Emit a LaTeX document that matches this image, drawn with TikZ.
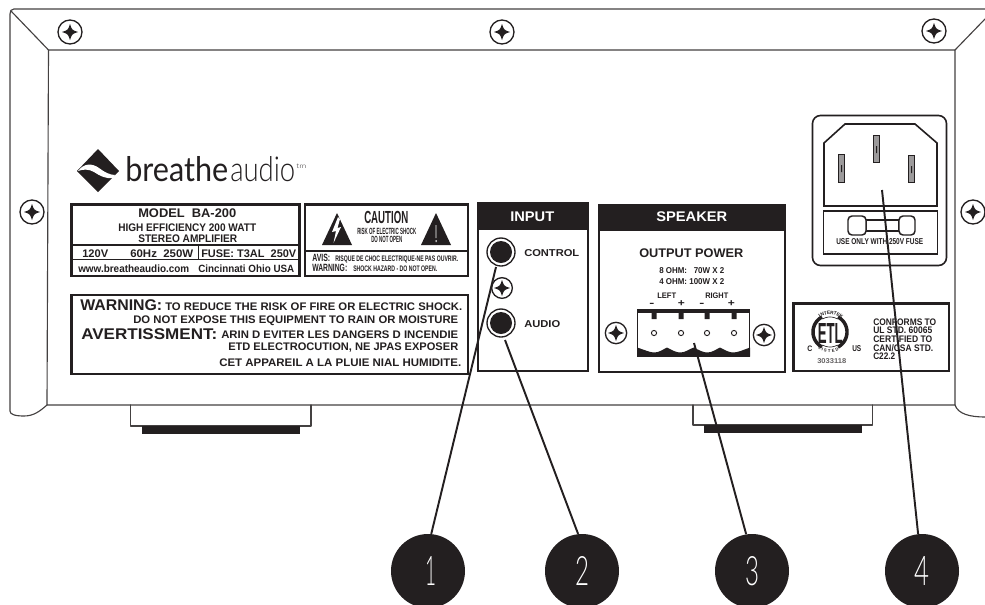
\documentclass[tikz,border=0pt]{standalone}
\usepackage{fontspec}
\usepackage{graphicx}
\setmainfont{Liberation Sans}[BoldFont={Liberation Sans Bold}]
\newfontfamily\logobold{Lato}
\newfontfamily\logolight{Lato Light}
\definecolor{ink}{HTML}{231F20}
\newdimen\upx \upx=0.75pt
\newcounter{lab}
\newcommand{\Lab}[6][ink]{% colour, x, y, width, size, text
  \stepcounter{lab}%
  \node[anchor=base west,inner sep=0pt,text=#1] (t\thelab) at (#2,#3)
    {\resizebox{#4\upx}{\height}{\fontsize{#5\upx}{#5\upx}\selectfont\bfseries #6}};}
\tikzset{
  body/.style={draw=ink!85,line width=0.85pt,line cap=round,line join=round},
  labelbox/.style={draw=ink,line width=1.9pt,fill=white},
  blackfill/.style={fill=ink,draw=none},
  thinbox/.style={draw=ink,line width=1.1pt,fill=white},
  leader/.style={draw=ink,line width=1.45pt},
  numdot/.style={circle,fill=ink,minimum size=55.5pt,inner sep=0pt},
  jack/.style={circle,draw=ink,line width=1pt,fill=white,minimum size=21pt,inner sep=0pt},
  jackcore/.style={circle,fill=ink,minimum size=16.5pt,inner sep=0pt},
  screwring/.style={circle,draw=ink,line width=1pt,fill=white,inner sep=0pt},
  pin/.style={fill=ink!45,draw=ink,line width=0.5pt}
}
\newcommand{\Screw}[4][18]{% minimum size in pt, name, x, y
  \node[screwring,minimum size=#1pt] (#2) at (#3,#4) {};
  \fill[ink] (#3-8,#4) .. controls (#3-2,#4-2) .. (#3,#4-8)
     .. controls (#3+2,#4-2) .. (#3+8,#4)
     .. controls (#3+2,#4+2) .. (#3,#4+8)
     .. controls (#3-2,#4+2) .. cycle;}
\begin{document}
\begin{tikzpicture}[x=0.75pt,y=-0.75pt]
\useasboundingbox (0,0) rectangle (985,604);
\clip (0,0) rectangle (985,604);
% chassis
\draw[body] (985,9) -- (14,9) .. controls (11,9) and (10,11) .. (10,14) -- (10,411)
  .. controls (10,414) and (14,416) .. (24,416) .. controls (34,416) and (40,411) .. (47,405);
\draw[body] (11,11) -- (48.5,50) -- (47,405) -- (955,405) -- (955,50) -- (48.5,50);
\draw[body] (955,50) -- (985,19);
\draw[body] (955,405) .. controls (958,414) and (970,417) .. (985,417);
% feet
\draw[body] (130.5,405) -- (130.5,426) -- (311,426) -- (311,405);
\fill[ink] (142,426) rectangle (300,434);
\draw[body] (693,405) -- (693,425) -- (872.5,425) -- (872.5,405);
\fill[ink] (703.5,425) rectangle (861.5,433);
% screws
\Screw{s1}{70}{32}
\Screw{s2}{502}{32}
\Screw{s3}{934}{31}
\Screw{s4}{32}{212}
\Screw{s5}{973}{212}
% logo
\fill[ink] (77,171) -- (98,149) -- (119,171) -- (98,192) -- cycle;
\fill[white] (78,171) .. controls (84,163) and (92,163) .. (99,168)
  .. controls (104,172) and (110,175) .. (115,175) -- (113,178)
  .. controls (106,179) and (100,176) .. (94,172) .. controls (89,169) and (83,169) .. (78,171) -- cycle;
\node[anchor=base west,inner sep=0pt,text=ink] (logoa) at (125,181.5)
  {\resizebox{103\upx}{25\upx}{\logobold breathe}};
\node[anchor=base west,inner sep=0pt,text=ink] (logob) at (230,181.5)
  {\resizebox{65\upx}{25\upx}{\logolight audio}};
\node[anchor=base west,inner sep=0pt,text=ink] (logoc) at (296,168)
  {\resizebox{10\upx}{4.5\upx}{\logolight tm}};
% model label
\draw[labelbox] (71.5,204.5) rectangle (299.5,276);
\draw[ink,line width=1.1pt] (72,245) -- (299,245) (72,259.5) -- (299,259.5) (198.5,245) -- (198.5,259.5);
\Lab{138}{217.5}{98}{12.5}{MODEL\ \ BA-200}
\Lab{118}{231}{138}{11}{HIGH EFFICIENCY 200 WATT}
\Lab{138}{242}{99}{11}{STEREO AMPLIFIER}
\Lab{82}{257}{26}{11}{120V}
\Lab{130}{257}{63}{11}{60Hz\ \ 250W}
\Lab{201}{257}{95}{11}{FUSE: T3AL\ \ 250V}
\Lab{78}{272}{111}{10.5}{www.breatheaudio.com}
\Lab{198}{272}{96}{10.5}{Cincinnati Ohio USA}
% caution label
\draw[labelbox] (305,204.5) rectangle (468,276);
\draw[ink,line width=1.1pt] (306,251) -- (467,251);
\fill[ink] (337,213) -- (352,245) -- (322,245) -- cycle;
\fill[white] (338,217) -- (332,232) -- (336,231) -- (333.5,243) -- (341,227) -- (337.5,228) -- (340,219) -- cycle;
\fill[ink] (436,213) -- (451,245) -- (421,245) -- cycle;
\fill[white] (435.6,225) rectangle (436.4,238) (435.5,240) rectangle (436.5,242);
\Lab{364}{223.5}{44}{17.5}{CAUTION}
\Lab{357}{234}{59}{9}{RISK OF ELECTRIC SHOCK}
\Lab{371}{242}{31}{9}{DO NOT OPEN}
\Lab{312}{261}{18}{10.5}{AVIS:}
\Lab{335}{261}{123}{8}{RISQUE DE CHOC ELECTRIQUE-NE PAS OUVRIR.}
\Lab{312}{271}{35}{10.5}{WARNING:}
\Lab{353}{271}{84}{8}{SHOCK HAZARD - DO NOT OPEN.}
% warning label
\draw[labelbox] (71.5,295) rectangle (468,374);
\Lab{80}{310}{82}{15.5}{WARNING:}
\Lab{165}{310}{297}{11}{TO REDUCE THE RISK OF FIRE OR ELECTRIC SHOCK.}
\Lab{133}{323}{325}{11}{DO NOT EXPOSE THIS EQUIPMENT TO RAIN OR MOISTURE}
\Lab{81}{339}{136}{15.5}{AVERTISSMENT:}
\Lab{221}{338}{237}{11}{ARIN D EVITER LES DANGERS D INCENDIE}
\Lab{228}{350}{230}{11}{ETD ELECTROCUTION, NE JPAS EXPOSER}
\Lab{219}{366}{242}{11}{CET APPAREIL A LA PLUIE NIAL HUMIDITE.}
% input panel
\draw[thinbox,line width=1.5pt] (477.5,203) rectangle (587.5,371);
\fill[blackfill] (476.5,202) rectangle (588.5,230);
\Lab[white]{510}{221}{44}{14}{INPUT}
\node[jack] (j1) at (501,252) {};
\node[jackcore] (j1c) at (501,252) {};
\node[jack] (j2) at (501,323) {};
\node[jackcore] (j2c) at (501,323) {};
\Lab{524}{256}{55}{10}{CONTROL}
\Lab{524}{327}{36}{10}{AUDIO}
\Screw[15.5]{s6}{502}{288}
% speaker panel
\draw[thinbox,line width=1.5pt] (598.5,205) rectangle (785,372);
\fill[blackfill] (597.5,204) rectangle (786,230.5);
\Lab[white]{656}{221}{71}{14}{SPEAKER}
\Lab{639}{257}{104}{12.5}{OUTPUT POWER}
\Lab{659}{273}{65}{8.5}{8 OHM:\ \ \ 70W X 2}
\Lab{659}{284}{65}{8.5}{4 OHM: 100W X 2}
\Lab{657}{298}{19}{8}{LEFT}
\Lab{705}{298}{23}{8}{RIGHT}
\Lab{649}{306.5}{5}{10}{-}
\Lab{677.5}{306.5}{7}{10}{+}
\Lab{699}{306.5}{5}{10}{-}
\Lab{727.5}{306.5}{7}{10}{+}
\Screw[16]{s7}{616}{333}
\Screw[16]{s8}{764}{335}
% terminal block
\draw[ink,line width=0.8pt,fill=white] (637.5,310) rectangle (749.5,356);
\fill[ink] (637,309) rectangle (750,312.5);
\fill[ink] (651.5,310) rectangle (656.5,319) (678.5,310) rectangle (683.5,319)
  (704.5,310) rectangle (709.5,319) (731.5,310) rectangle (736.5,319);
\foreach \px in {654,681,707,734} {\draw[ink,line width=0.7pt] (\px,333) circle[radius=2.6];}
\fill[ink] (637,347.5) .. controls (645,350) and (650,352.5) .. (654,352.5) .. controls (659,352.5) and (662,350) .. (667,347.5)
  .. controls (672,350) and (676,352.5) .. (680,352.5) .. controls (685,352.5) and (688,350) .. (693.5,347.5)
  .. controls (699,350) and (703,352.5) .. (707,352.5) .. controls (712,352.5) and (715,350) .. (720,347.5)
  .. controls (725,350) and (729,352.5) .. (733,352.5) .. controls (738,352.5) and (743,350) .. (750,347.5)
  -- (750,356.5) -- (637,356.5) -- cycle;
% power inlet
\draw[ink,line width=1.2pt,fill=white,rounded corners=6pt] (812.5,115.5) rectangle (946.5,265.5);
\draw[ink,line width=1.2pt] (824,206) -- (937,206) -- (937,143) -- (915,124) -- (845,124) -- (824,143) -- cycle;
\draw[ink,line width=1.2pt] (823.5,211) rectangle (937.5,254);
\draw[pin] (838.5,154.5) rectangle (844.5,182);
\draw[pin] (873.5,135) rectangle (879.5,162);
\draw[pin] (908.5,155) rectangle (914.5,182);
\fill[ink] (841,165) rectangle (842,172) (876,146) rectangle (877,153) (911,166) rectangle (912,173);
\draw[ink,line width=0.8pt] (866,220) rectangle (899,231);
\draw[ink,line width=1.1pt,rounded corners=3pt,fill=white] (848,216) rectangle (866,235);
\draw[ink,line width=1.1pt,rounded corners=3pt,fill=white] (899,216) rectangle (915,235);
\Lab{836}{244}{87}{8.5}{USE ONLY WITH 250V FUSE}
% ETL label
\draw[labelbox] (793.5,303.5) rectangle (949,371);
\draw[ink,line width=2.6pt] plot[domain=118:242,samples=30] ({830+17*cos(\x)},{332-17*sin(\x)});
\draw[ink,line width=2.6pt] plot[domain=-62:62,samples=30] ({830+17*cos(\x)},{332-17*sin(\x)});
\draw[ink,line width=0.5pt] plot[domain=60:120,samples=12] ({830+15*cos(\x)},{332-15*sin(\x)});
\draw[ink,line width=0.5pt] plot[domain=240:300,samples=12] ({830+15*cos(\x)},{332-15*sin(\x)});
\node[anchor=base west,inner sep=0pt,text=ink] (etl) at (817.5,343.5)
  {\resizebox{25\upx}{20\upx}{\bfseries ETL}};
\foreach \ch/\ang [count=\i] in {I/124,N/114,T/104,E/94,R/84,T/74,E/64,K/54} {
  \node[inner sep=0pt,text=ink,font=\bfseries\fontsize{3.6pt}{4pt}\selectfont,rotate=\ang-90] (ka\i) at ({830+19*cos(\ang)},{332-19*sin(\ang)}) {\ch};}
\foreach \ch/\ang [count=\i] in {L/238,I/247,S/256,T/268,E/280,D/292} {
  \node[inner sep=0pt,text=ink,font=\bfseries\fontsize{3.2pt}{4pt}\selectfont,rotate=\ang+90] (kb\i) at ({830+19*cos(\ang)},{332-19*sin(\ang)}) {\ch};}
\Lab{807}{351}{5}{8}{C}
\Lab{852}{351}{9}{8.5}{US}
\Lab[ink!70]{817}{363}{29}{7}{3033118}
\Lab{873}{325}{63}{9.5}{CONFORMS TO}
\Lab{873}{333.5}{59}{9.5}{UL STD. 60065}
\Lab{873}{342}{59}{9.5}{CERTIFIED TO}
\Lab{873}{351}{60}{9.5}{CAN/CSA STD.}
\Lab{873}{359.5}{22}{9.5}{C22.2}
% numbered dots
\node[numdot] (n1) at (428,571) {};
\node[numdot] (n2) at (582,571) {};
\node[numdot] (n3) at (752,571) {};
\node[numdot] (n4) at (922,571) {};
\node[anchor=base,inner sep=0pt,text=white] (d1) at (431,585) {\resizebox{11\upx}{29\upx}{\logolight 1}};
\node[anchor=base,inner sep=0pt,text=white] (d2) at (582,585) {\resizebox{14\upx}{29\upx}{\logolight 2}};
\node[anchor=base,inner sep=0pt,text=white] (d3) at (752,585) {\resizebox{14\upx}{29\upx}{\logolight 3}};
\node[anchor=base,inner sep=0pt,text=white] (d4) at (922,585) {\resizebox{15\upx}{29\upx}{\logolight 4}};
% leaders
\coordinate (a1) at (496,267);
\coordinate (a2) at (505,340);
\coordinate (a3) at (694,343);
\coordinate (a4) at (882,190);
\draw[leader] (a1) -- (n1.85);
\draw[leader] (a2) -- (n2.96);
\draw[leader] (a3) -- (n3.99);
\draw[leader] (a4) -- (n4.96);
\end{tikzpicture}
\end{document}
